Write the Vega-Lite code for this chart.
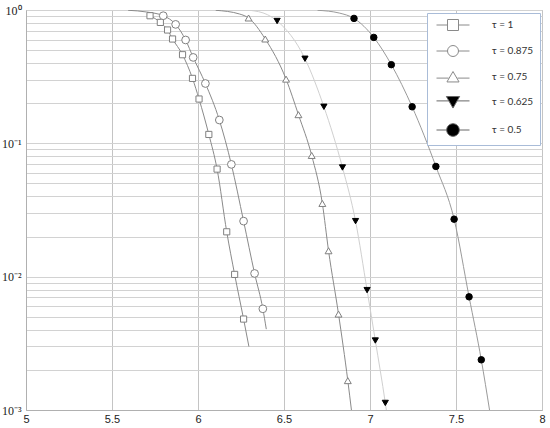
{
  "$schema": "https://vega.github.io/schema/vega-lite/v6.json",
  "width": 516,
  "height": 400,
  "autosize": "none",
  "padding": {"left": 26, "top": 10, "right": 8, "bottom": 18},
  "background": "white",
  "config": {
    "view": {"stroke": "#b0b0b0", "strokeWidth": 1}
  },
  "datasets": {
    "lines": [
      {"s": "τ = 1", "x": 5.721, "y": 0.906},
      {"s": "τ = 1", "x": 5.781, "y": 0.807},
      {"s": "τ = 1", "x": 5.823, "y": 0.708},
      {"s": "τ = 1", "x": 5.852, "y": 0.606},
      {"s": "τ = 1", "x": 5.910, "y": 0.462},
      {"s": "τ = 1", "x": 5.968, "y": 0.307},
      {"s": "τ = 1", "x": 6.006, "y": 0.215},
      {"s": "τ = 1", "x": 6.063, "y": 0.1166},
      {"s": "τ = 1", "x": 6.111, "y": 0.0641},
      {"s": "τ = 1", "x": 6.167, "y": 0.0217},
      {"s": "τ = 1", "x": 6.213, "y": 0.0104},
      {"s": "τ = 1", "x": 6.265, "y": 0.00481},
      {"s": "τ = 1", "x": 6.296, "y": 0.00299},
      {"s": "τ = 0.875", "x": 5.594, "y": 0.995},
      {"s": "τ = 0.875", "x": 5.702, "y": 0.966},
      {"s": "τ = 0.875", "x": 5.798, "y": 0.906},
      {"s": "τ = 0.875", "x": 5.870, "y": 0.780},
      {"s": "τ = 0.875", "x": 5.928, "y": 0.596},
      {"s": "τ = 0.875", "x": 5.972, "y": 0.441},
      {"s": "τ = 0.875", "x": 6.043, "y": 0.281},
      {"s": "τ = 0.875", "x": 6.124, "y": 0.1496},
      {"s": "τ = 0.875", "x": 6.194, "y": 0.0695},
      {"s": "τ = 0.875", "x": 6.265, "y": 0.0261},
      {"s": "τ = 0.875", "x": 6.329, "y": 0.01057},
      {"s": "τ = 0.875", "x": 6.377, "y": 0.00574},
      {"s": "τ = 0.875", "x": 6.397, "y": 0.00404},
      {"s": "τ = 0.75", "x": 6.103, "y": 0.995},
      {"s": "τ = 0.75", "x": 6.242, "y": 0.933},
      {"s": "τ = 0.75", "x": 6.294, "y": 0.871},
      {"s": "τ = 0.75", "x": 6.391, "y": 0.606},
      {"s": "τ = 0.75", "x": 6.512, "y": 0.303},
      {"s": "τ = 0.75", "x": 6.584, "y": 0.164},
      {"s": "τ = 0.75", "x": 6.661, "y": 0.0811},
      {"s": "τ = 0.75", "x": 6.723, "y": 0.0354},
      {"s": "τ = 0.75", "x": 6.759, "y": 0.01564},
      {"s": "τ = 0.75", "x": 6.817, "y": 0.00524},
      {"s": "τ = 0.75", "x": 6.871, "y": 0.00166},
      {"s": "τ = 0.75", "x": 6.892, "y": 0.001},
      {"s": "τ = 0.625", "x": 6.300, "y": 0.995},
      {"s": "τ = 0.625", "x": 6.404, "y": 0.922},
      {"s": "τ = 0.625", "x": 6.460, "y": 0.827},
      {"s": "τ = 0.625", "x": 6.622, "y": 0.431},
      {"s": "τ = 0.625", "x": 6.732, "y": 0.188},
      {"s": "τ = 0.625", "x": 6.840, "y": 0.0659},
      {"s": "τ = 0.625", "x": 6.916, "y": 0.0261},
      {"s": "τ = 0.625", "x": 6.983, "y": 0.00793},
      {"s": "τ = 0.625", "x": 7.031, "y": 0.00332},
      {"s": "τ = 0.625", "x": 7.089, "y": 0.00113},
      {"s": "τ = 0.625", "x": 7.095, "y": 0.001},
      {"s": "τ = 0.5", "x": 6.695, "y": 0.995},
      {"s": "τ = 0.5", "x": 6.821, "y": 0.949},
      {"s": "τ = 0.5", "x": 6.907, "y": 0.865},
      {"s": "τ = 0.5", "x": 7.022, "y": 0.623},
      {"s": "τ = 0.5", "x": 7.124, "y": 0.389},
      {"s": "τ = 0.5", "x": 7.245, "y": 0.188},
      {"s": "τ = 0.5", "x": 7.383, "y": 0.0671},
      {"s": "τ = 0.5", "x": 7.489, "y": 0.0270},
      {"s": "τ = 0.5", "x": 7.576, "y": 0.00706},
      {"s": "τ = 0.5", "x": 7.647, "y": 0.00238},
      {"s": "τ = 0.5", "x": 7.695, "y": 0.001}
    ],
    "pts": [
      {"s": "τ = 1", "x": 5.721, "y": 0.906},
      {"s": "τ = 1", "x": 5.781, "y": 0.807},
      {"s": "τ = 1", "x": 5.823, "y": 0.708},
      {"s": "τ = 1", "x": 5.852, "y": 0.606},
      {"s": "τ = 1", "x": 5.910, "y": 0.462},
      {"s": "τ = 1", "x": 5.968, "y": 0.307},
      {"s": "τ = 1", "x": 6.006, "y": 0.215},
      {"s": "τ = 1", "x": 6.063, "y": 0.1166},
      {"s": "τ = 1", "x": 6.111, "y": 0.0641},
      {"s": "τ = 1", "x": 6.167, "y": 0.0217},
      {"s": "τ = 1", "x": 6.213, "y": 0.0104},
      {"s": "τ = 1", "x": 6.265, "y": 0.00481},
      {"s": "τ = 0.875", "x": 5.798, "y": 0.906},
      {"s": "τ = 0.875", "x": 5.870, "y": 0.780},
      {"s": "τ = 0.875", "x": 5.928, "y": 0.596},
      {"s": "τ = 0.875", "x": 5.972, "y": 0.441},
      {"s": "τ = 0.875", "x": 6.043, "y": 0.281},
      {"s": "τ = 0.875", "x": 6.124, "y": 0.1496},
      {"s": "τ = 0.875", "x": 6.194, "y": 0.0695},
      {"s": "τ = 0.875", "x": 6.265, "y": 0.0261},
      {"s": "τ = 0.875", "x": 6.329, "y": 0.01057},
      {"s": "τ = 0.875", "x": 6.377, "y": 0.00574},
      {"s": "τ = 0.75", "x": 6.294, "y": 0.871},
      {"s": "τ = 0.75", "x": 6.391, "y": 0.606},
      {"s": "τ = 0.75", "x": 6.512, "y": 0.303},
      {"s": "τ = 0.75", "x": 6.584, "y": 0.164},
      {"s": "τ = 0.75", "x": 6.661, "y": 0.0811},
      {"s": "τ = 0.75", "x": 6.723, "y": 0.0354},
      {"s": "τ = 0.75", "x": 6.759, "y": 0.01564},
      {"s": "τ = 0.75", "x": 6.817, "y": 0.00524},
      {"s": "τ = 0.75", "x": 6.871, "y": 0.00166},
      {"s": "τ = 0.625", "x": 6.460, "y": 0.827},
      {"s": "τ = 0.625", "x": 6.622, "y": 0.431},
      {"s": "τ = 0.625", "x": 6.732, "y": 0.188},
      {"s": "τ = 0.625", "x": 6.840, "y": 0.0659},
      {"s": "τ = 0.625", "x": 6.916, "y": 0.0261},
      {"s": "τ = 0.625", "x": 6.983, "y": 0.00793},
      {"s": "τ = 0.625", "x": 7.031, "y": 0.00332},
      {"s": "τ = 0.625", "x": 7.089, "y": 0.00113},
      {"s": "τ = 0.5", "x": 6.907, "y": 0.865},
      {"s": "τ = 0.5", "x": 7.022, "y": 0.623},
      {"s": "τ = 0.5", "x": 7.124, "y": 0.389},
      {"s": "τ = 0.5", "x": 7.245, "y": 0.188},
      {"s": "τ = 0.5", "x": 7.383, "y": 0.0671},
      {"s": "τ = 0.5", "x": 7.489, "y": 0.0270},
      {"s": "τ = 0.5", "x": 7.576, "y": 0.00706},
      {"s": "τ = 0.5", "x": 7.647, "y": 0.00238}
    ]
  },
  "encoding": {
    "x": {
      "field": "x", "type": "quantitative",
      "scale": {"domain": [5, 8], "nice": false, "zero": false},
      "axis": {
        "title": null,
        "values": [5, 5.5, 6, 6.5, 7, 7.5, 8],
        "format": "~g",
        "grid": true, "gridColor": "#c4c4c4", "gridWidth": 1,
        "ticks": false, "domainColor": "#b0b0b0",
        "labelFont": "Liberation Sans", "labelFontSize": 11, "labelColor": "#222",
        "labelPadding": 3, "labelFlush": false
      }
    },
    "y": {
      "field": "y", "type": "quantitative",
      "scale": {"type": "log", "domain": [0.001, 1], "nice": false},
      "axis": {
        "title": null,
        "values": [0.001, 0.002, 0.003, 0.004, 0.005, 0.006, 0.007, 0.008, 0.009, 0.01, 0.02, 0.03, 0.04, 0.05, 0.06, 0.07, 0.08, 0.09, 0.1, 0.2, 0.3, 0.4, 0.5, 0.6, 0.7, 0.8, 0.9, 1],
        "labelExpr": "datum.value == 1 ? '10⁰' : datum.value == 0.1 ? '10⁻¹' : datum.value == 0.01 ? '10⁻²' : datum.value == 0.001 ? '10⁻³' : ''",
        "grid": true, "gridColor": "#d2d2d2", "gridWidth": 1,
        "ticks": false, "domainColor": "#b0b0b0",
        "labelFont": "Liberation Serif", "labelFontSize": 12, "labelColor": "#222",
        "labelPadding": 5, "labelFlush": false, "labelOverlap": false
      }
    }
  },
  "layer": [
    {
      "data": {"name": "lines"},
      "mark": {"type": "line", "interpolate": "monotone", "strokeWidth": 1, "clip": true},
      "encoding": {
        "detail": {"field": "s"},
        "stroke": {
          "field": "s", "type": "nominal", "legend": null,
          "scale": {"domain": ["τ = 1", "τ = 0.875", "τ = 0.75", "τ = 0.625", "τ = 0.5"], "range": ["#8a8a8a", "#8a8a8a", "#8a8a8a", "#d0d0d0", "#9a9a9a"]}
        }
      }
    },
    {
      "data": {"name": "pts"},
      "mark": {"type": "point", "strokeWidth": 1, "opacity": 1},
      "encoding": {
        "shape": {
          "field": "s", "type": "nominal", "legend": null,
          "scale": {"domain": ["τ = 1", "τ = 0.875", "τ = 0.75", "τ = 0.625", "τ = 0.5"], "range": ["square", "circle", "triangle-up", "triangle-down", "circle"]}
        },
        "fill": {
          "field": "s", "type": "nominal", "legend": null,
          "scale": {"domain": ["τ = 1", "τ = 0.875", "τ = 0.75", "τ = 0.625", "τ = 0.5"], "range": ["white", "white", "white", "black", "black"]}
        },
        "stroke": {
          "field": "s", "type": "nominal", "legend": null,
          "scale": {"domain": ["τ = 1", "τ = 0.875", "τ = 0.75", "τ = 0.625", "τ = 0.5"], "range": ["#808080", "#808080", "#808080", "black", "black"]}
        },
        "size": {
          "field": "s", "type": "nominal", "legend": null,
          "scale": {"type": "ordinal", "domain": ["τ = 1", "τ = 0.875", "τ = 0.75", "τ = 0.625", "τ = 0.5"], "range": [38, 60, 48, 38, 42]}
        }
      }
    },
    {
      "data": {"name": "pts"},
      "transform": [{"filter": "datum.x > 100"}],
      "mark": {"type": "point", "strokeWidth": 1, "opacity": 1},
      "encoding": {
        "shape": {
          "field": "s", "type": "nominal",
          "scale": {"domain": ["τ = 1", "τ = 0.875", "τ = 0.75", "τ = 0.625", "τ = 0.5"], "range": [
            "M-3,0H-1M1,0H3M-1,-1H1V1H-1Z",
            "M-3,0H-1M1,0H3M-1,0A1,1,0,1,0,1,0A1,1,0,1,0,-1,0Z",
            "M-3,0.2H-0.8M0.8,0.2H3M0,-1L1.1,0.9H-1.1Z",
            "M-3,-0.2H-0.75M0.75,-0.2H3M-1.2,-1H1.2L0,1.1Z",
            "M-3,0H-1.1M1.1,0H3M-1.15,0A1.15,1.15,0,1,0,1.15,0A1.15,1.15,0,1,0,-1.15,0Z"
          ]},
          "legend": {
            "title": null,
            "orient": "none", "legendX": 401, "legendY": 3,
            "padding": 6, "strokeColor": "#a9bcd8", "fillColor": "white",
            "symbolSize": 121, "symbolStrokeWidth": 1, "symbolOffset": 14,
            "labelOffset": 33, "labelFont": "Lato", "labelFontSize": 10, "labelColor": "#333",
            "rowPadding": 10
          }
        },
        "fill": {
          "field": "s", "type": "nominal",
          "scale": {"domain": ["τ = 1", "τ = 0.875", "τ = 0.75", "τ = 0.625", "τ = 0.5"], "range": ["white", "white", "white", "black", "black"]}
        },
        "stroke": {
          "field": "s", "type": "nominal",
          "scale": {"domain": ["τ = 1", "τ = 0.875", "τ = 0.75", "τ = 0.625", "τ = 0.5"], "range": ["#8a8a8a", "#8a8a8a", "#8a8a8a", "#666666", "#666666"]}
        }
      }
    }
  ],
  "resolve": {"scale": {"shape": "independent", "fill": "independent", "stroke": "independent", "size": "independent"}}
}
